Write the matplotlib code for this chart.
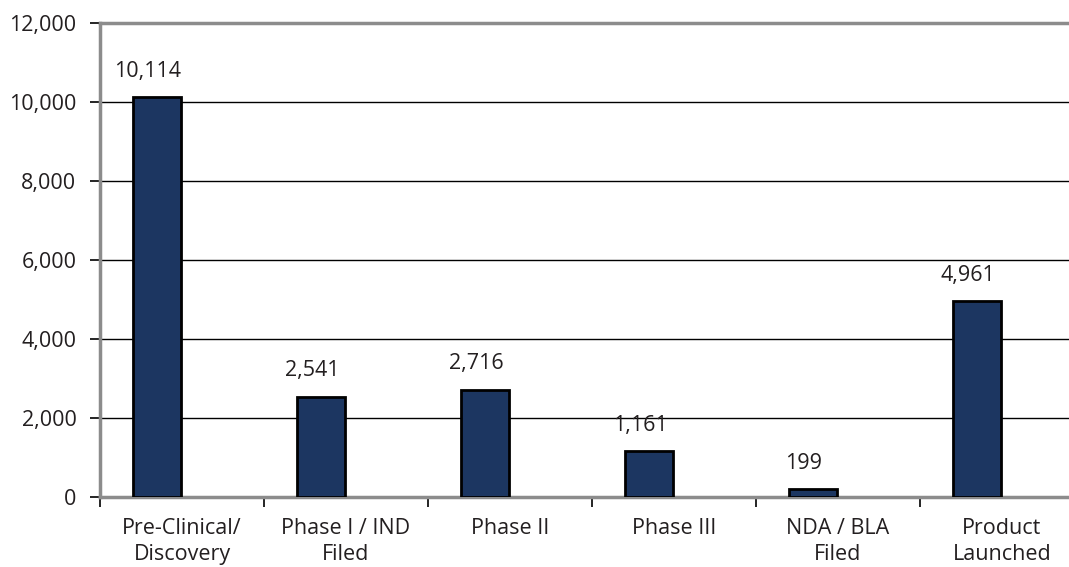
import matplotlib.pyplot as plt
import numpy as np

plt.rcParams['font.family'] = ['Open Sans', 'DejaVu Sans']

stages = ["Pre-Clinical/\nDiscovery", "Phase I / IND\nFiled", "Phase II",
          "Phase III", "NDA / BLA\nFiled", "Product\nLaunched"]
counts = [10114, 2541, 2716, 1161, 199, 4961]
yticks = [0, 2000, 4000, 6000, 8000, 10000, 12000]

navy = '#1c3661'
gray = '#8c8c8c'
txt = '#231f20'

fig = plt.figure(figsize=(10.69, 5.67), dpi=100)
# plot area runs a little past the right edge of the figure
ax = fig.add_axes([100 / 1069, 70 / 567, 984 / 1069, 474 / 567])

x = np.arange(len(stages))
# bar sits in the left half of each slot, like an Excel two-series cluster
offset = 57 / 164 - 0.5
width = 48 / 164
bars = ax.bar(x + offset, counts, width=width, color=navy,
              edgecolor='black', linewidth=2, zorder=3)

for b, v in zip(bars, counts):
    ax.annotate(f"{v:,}", (b.get_x() + b.get_width() / 2 - 0.055, v),
                xytext=(0, 11), textcoords='offset points',
                ha='center', va='bottom', fontsize=15.5, color=txt)

ax.set_xlim(-0.5, 5.5)
ax.set_ylim(0, 12000)
ax.set_yticks(yticks)
ax.set_yticklabels([f"{t:,}" for t in yticks], fontsize=15.5, color=txt)
for t in yticks[1:-1]:
    ax.axhline(t, color='black', linewidth=1.0, zorder=1)
ax.axhline(12000, color=gray, linewidth=2.5, zorder=1, clip_on=False)

# category separators on the x axis, labels centred between them
ax.set_xticks(np.arange(len(stages) + 1) - 0.5)
ax.set_xticklabels([])
ax.set_xticks(x, minor=True)
ax.set_xticklabels(stages, minor=True, fontsize=15.5, color=txt,
                   linespacing=1.3)
ax.tick_params(axis='x', which='minor', length=0, pad=15)
ax.tick_params(axis='x', which='major', length=7, width=1.2, color='black')
ax.tick_params(axis='y', length=7, width=1.2, color='black', pad=10)

for s in ['top', 'right']:
    ax.spines[s].set_visible(False)
ax.spines['left'].set_color(gray)
ax.spines['left'].set_linewidth(2.5)
ax.spines['bottom'].set_color(gray)
ax.spines['bottom'].set_linewidth(2.5)

fig.savefig('out.png', dpi=100)
